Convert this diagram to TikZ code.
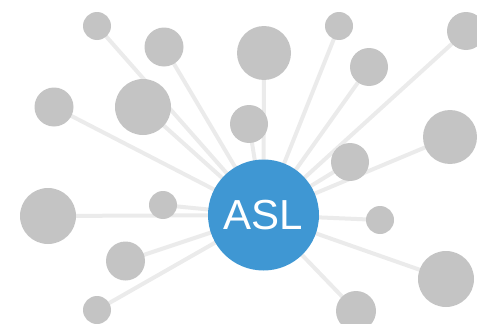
\documentclass[tikz,border=0pt]{standalone}
\usepackage{fontspec}
\setmainfont{Liberation Sans}
\usetikzlibrary{backgrounds}
\definecolor{linkgray}{HTML}{EBEBEB}
\definecolor{nodegray}{HTML}{C4C4C4}
\definecolor{aslblue}{HTML}{3F97D3}
\begin{document}
\begin{tikzpicture}[x=1pt,y=-1pt,
  leaf/.style={circle,fill=nodegray,draw=none,inner sep=0pt,minimum size=#1},
  link/.style={draw=linkgray,line width=4pt},
  hub/.style={circle,fill=aslblue,draw=none,inner sep=0pt,minimum size=111pt,text=white,font=\fontsize{42}{42}\selectfont}]
\useasboundingbox (0,0) rectangle (477,324);
\clip (0,0) rectangle (477,324);
\node[leaf=28pt] (n1) at (97,26) {};
\node[leaf=39pt] (n2) at (164,47) {};
\node[leaf=54pt] (n3) at (264,53) {};
\node[leaf=28pt] (n4) at (339,26) {};
\node[leaf=38pt] (n5) at (466,31) {};
\node[leaf=38pt] (n6) at (369,67) {};
\node[leaf=39pt] (n7) at (54,107) {};
\node[leaf=56pt] (n8) at (143,107) {};
\node[leaf=38pt] (n9) at (249,124) {};
\node[leaf=54pt] (n10) at (450,137) {};
\node[leaf=38pt] (n11) at (350,162) {};
\node[leaf=56pt] (n12) at (48,216) {};
\node[leaf=28pt] (n13) at (163,205) {};
\node[leaf=28pt] (n14) at (380,220) {};
\node[leaf=39pt] (n15) at (125.5,261) {};
\node[leaf=56pt] (n16) at (446,279) {};
\node[leaf=28pt] (n17) at (97,310) {};
\node[leaf=40pt] (n18) at (356,311) {};
\node[hub] (asl) at (263.5,215) {ASL};
\begin{scope}[on background layer]
\foreach \n in {n1,n2,n3,n4,n5,n6,n7,n8,n9,n10,n11,n12,n13,n14,n15,n16,n17,n18}
  \path[link] (asl.center) -- (\n.center);
\end{scope}
\end{tikzpicture}
\end{document}
